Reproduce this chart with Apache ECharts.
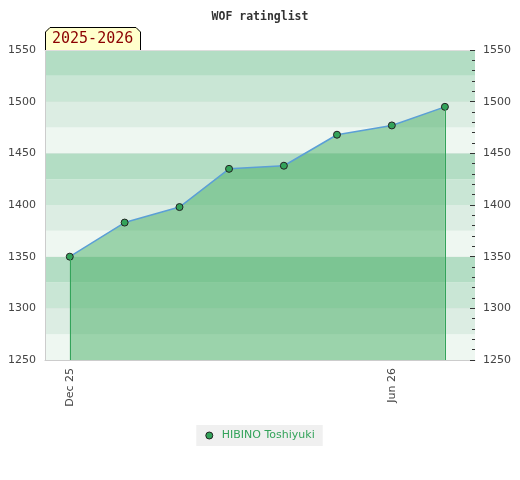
<!DOCTYPE html>
<html>
<head>
<meta charset="utf-8">
<script src="https://cdn.jsdelivr.net/npm/echarts@6/dist/echarts.min.js"></script>
<style>
html,body{margin:0;padding:0;background:#fff;}
#chart{width:520px;height:480px;}
</style>
</head>
<body>
<div id="chart"></div>
<script>
// ---- data ----
const dates = ['2025-12-01','2026-01-01','2026-02-01','2026-03-01','2026-04-01','2026-05-01','2026-06-01','2026-07-01'];
const ratings = [1350, 1383, 1398, 1435, 1438, 1468, 1477, 1495];
const playerName = 'HIBINO Toshiyuki';
const tickDates = ['2025-12-01','2026-06-01'];
const tickLabels = ['Dec 25','Jun 26'];
const yTicks = [1250, 1300, 1350, 1400, 1450, 1500, 1550];
const seasonLabel = '2025-2026';
const chartTitle = 'WOF ratinglist';

const yMin = yTicks[0], yMax = yTicks[yTicks.length - 1];
const xMin = '2025-11-17', xMax = '2026-07-18';
const toMs = s => Date.UTC(+s.slice(0,4), +s.slice(5,7) - 1, +s.slice(8,10));
const tickMs = tickDates.map(toMs);

const chart = echarts.init(document.getElementById('chart'), null, {renderer: 'canvas'});

const seriesData = dates.map((d, i) => [toMs(d), ratings[i]]);
const last = dates.length - 1;
const plainNum = v => String(v);

const option = {
  animation: false,
  backgroundColor: '#ffffff',
  title: {
    text: chartTitle,
    left: 'center',
    top: 6,
    textStyle: {fontFamily: 'DejaVu Sans Mono', fontWeight: 'bold', fontSize: 11.5, color: '#333'}
  },
  grid: {left: 45, right: 45, top: 50, bottom: 120, containLabel: false},
  legend: {
    data: [playerName],
    left: 'center',
    top: 425,
    backgroundColor: '#f0f0f0',
    padding: [5, 8, 5, 9],
    icon: 'circle',
    itemWidth: 7,
    itemHeight: 7,
    itemGap: 10,
    itemStyle: {color: '#33a35a', borderColor: '#222', borderWidth: 1},
    textStyle: {color: '#33a35a', fontSize: 11, fontFamily: 'DejaVu Sans', padding: [0, 0, 0, 4]}
  },
  xAxis: [{
    type: 'value',
    min: toMs(xMin),
    max: toMs(xMax),
    position: 'bottom',
    axisLine: {show: true, lineStyle: {color: '#cccccc', width: 1}},
    axisTick: {show: false},
    splitLine: {show: false},
    axisLabel: {
      customValues: tickMs,
      rotate: 90,
      margin: 8,
      color: '#444',
      fontSize: 11,
      fontFamily: 'DejaVu Sans',
      formatter: function (v) {
        let best = -1, bd = Infinity;
        tickMs.forEach((t, i) => { const d = Math.abs(t - v); if (d < bd) { bd = d; best = i; } });
        return bd < 86400000 ? tickLabels[best] : '';
      }
    }
  }, {
    type: 'value',
    position: 'top',
    min: 0, max: 1,
    axisLine: {show: true, lineStyle: {color: '#dddddd', width: 1}},
    axisTick: {show: false},
    axisLabel: {show: false},
    splitLine: {show: false}
  }],
  yAxis: [{
    type: 'value',
    position: 'left',
    min: yMin, max: yMax, interval: 50,
    axisLine: {show: true, lineStyle: {color: '#cccccc', width: 1}},
    axisTick: {show: false},
    axisLabel: {color: '#444', fontSize: 11, margin: 9, fontFamily: 'DejaVu Sans', formatter: plainNum},
    splitLine: {show: true, lineStyle: {color: '#e4e4e4', width: 1}}
  }, {
    type: 'value',
    position: 'right',
    min: yMin, max: yMax, interval: 50,
    axisLine: {show: false},
    axisTick: {show: true, inside: true, length: 5, lineStyle: {color: '#333'}},
    minorTick: {show: true, splitNumber: 5, length: 3, lineStyle: {color: '#333'}},
    axisLabel: {color: '#444', fontSize: 11, margin: 8, fontFamily: 'DejaVu Sans', formatter: plainNum},
    splitLine: {show: false}
  }, {
    type: 'value',
    position: 'left',
    min: yMin, max: yMax, interval: 25,
    axisLine: {show: false},
    axisTick: {show: false},
    axisLabel: {show: false},
    splitLine: {show: false},
    splitArea: {show: true, areaStyle: {color: ['#eef7f1', '#dcede3', '#c9e6d5', '#b3ddc4']}}
  }],
  graphic: [{
    type: 'polygon',
    z: 100,
    shape: {points: [[45, 50], [45, 32], [50, 27], [136, 27], [141, 32], [141, 50]]},
    style: {fill: '#ffffcc', stroke: null}
  }, {
    type: 'polyline',
    z: 101,
    shape: {points: [[45.5, 50], [45.5, 32], [50, 27.5], [136, 27.5], [140.5, 32], [140.5, 50]]},
    style: {stroke: '#000', lineWidth: 1, fill: null}
  }, {
    type: 'text',
    z: 102,
    left: 52,
    top: 32,
    style: {text: seasonLabel, fill: '#8b0000', font: '15px "DejaVu Sans Mono"'}
  }],
  series: [{
    name: playerName,
    type: 'line',
    xAxisIndex: 0,
    yAxisIndex: 0,
    data: seriesData,
    symbol: 'circle',
    symbolSize: 7,
    itemStyle: {color: '#33a35a', borderColor: '#222', borderWidth: 1},
    lineStyle: {color: '#5b9fd6', width: 1.5},
    areaStyle: {color: 'rgba(61,171,92,0.47)', opacity: 1, origin: 'start'},
    markLine: {
      silent: true,
      symbol: 'none',
      label: {show: false},
      lineStyle: {color: '#33a35a', width: 1, type: 'solid'},
      data: [
        [{coord: [toMs(dates[0]), ratings[0]]}, {coord: [toMs(dates[0]), yMin]}],
        [{coord: [toMs(dates[last]), ratings[last]]}, {coord: [toMs(dates[last]), yMin]}]
      ]
    },
    z: 3
  }]
};
chart.setOption(option);
</script>
</body>
</html>
